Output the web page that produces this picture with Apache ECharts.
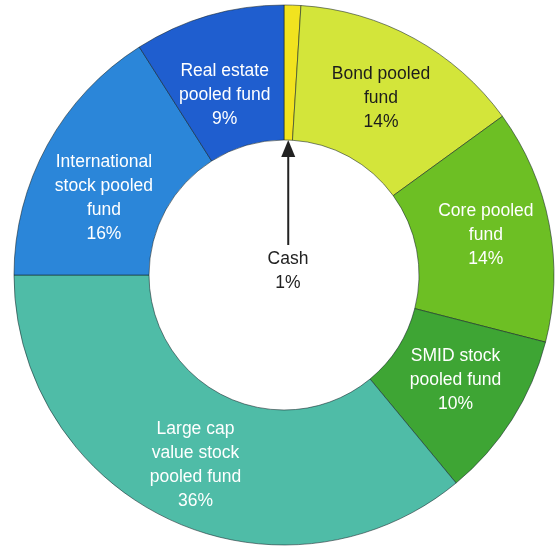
<!DOCTYPE html>
<html>
<head>
<meta charset="utf-8">
<script src="https://cdn.jsdelivr.net/npm/echarts@6/dist/echarts.min.js"></script>
<style>
  html, body { margin: 0; padding: 0; background: #fff; }
  #chart { width: 558px; height: 548px; }
</style>
</head>
<body>
<div id="chart"></div>
<script>
// fund names, clockwise from 12 o'clock
const categories = [
  'Cash',
  'Bond pooled\nfund',
  'Core pooled\nfund',
  'SMID stock\npooled fund',
  'Large cap\nvalue stock\npooled fund',
  'International\nstock pooled\nfund',
  'Real estate\npooled fund'
]
const shares = [1, 14, 14, 10, 36, 16, 9] // percent

const colors = ['#f1e31f', '#d3e53a', '#6dbf24', '#3ea534', '#4fbca7', '#2b86d9', '#1f5ecf']
const textColors = ['#222', '#1c1c1c', '#fff', '#fff', '#fff', '#fff', '#fff']
// small nudges so labels sit where the original puts them
const labelOffsets = [[4, -4], [-2, 3], [0, -1], [-2, -5], [-1, 4], [0, 22], [-2, 18]]

const myChart = echarts.init(document.getElementById('chart'))

const pieData = categories.map((name, i) => ({
  name: name,
  value: shares[i],
  itemStyle: { color: colors[i] },
  label: {
    position: i === 0 ? 'center' : 'inside',
    color: textColors[i],
    offset: labelOffsets[i]
  }
}))

const option = {
  backgroundColor: '#fff',
  animation: false,
  series: [
    {
      type: 'pie',
      center: [284, 275],
      radius: [135, 270],
      startAngle: 90,
      clockwise: true,
      avoidLabelOverlap: false,
      itemStyle: {
        borderColor: 'rgba(20,35,40,0.55)',
        borderWidth: 1
      },
      label: {
        show: true,
        fontFamily: 'Liberation Sans, Arial, sans-serif',
        fontSize: 17.5,
        lineHeight: 24,
        align: 'center',
        formatter: p => p.name + '\n' + p.value + '%'
      },
      labelLine: { show: false },
      emphasis: { disabled: true },
      data: pieData
    }
  ]
}
myChart.setOption(option)

// arrow from the Cash label up to the Cash slice, placed from the pie layout
const layout = myChart.getModel().getSeriesByIndex(0).getData().getItemLayout(0)
const mid = (layout.startAngle + layout.endAngle) / 2
const tipX = layout.cx + layout.r0 * Math.cos(mid)
const tipY = layout.cy + layout.r0 * Math.sin(mid)
const baseY = layout.cy - 30
myChart.setOption({
  graphic: [
    {
      type: 'line',
      shape: { x1: tipX, y1: baseY, x2: tipX, y2: tipY + 14 },
      style: { stroke: '#222', lineWidth: 2 }
    },
    {
      type: 'polygon',
      shape: { points: [[tipX, tipY], [tipX - 7, tipY + 17], [tipX + 7, tipY + 17]] },
      style: { fill: '#222' }
    }
  ]
})
</script>
</body>
</html>
